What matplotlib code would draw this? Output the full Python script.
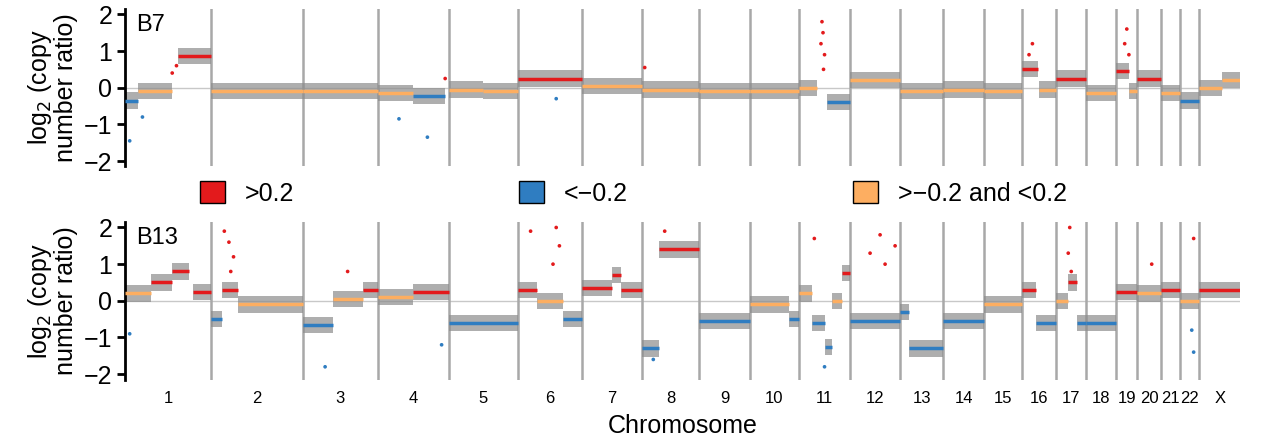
import matplotlib.pyplot as plt
from matplotlib.patches import Patch

plt.rcParams['font.family'] = ['Liberation Sans', 'DejaVu Sans']

chrom_names = ['1', '2', '3', '4', '5', '6', '7', '8', '9', '10', '11', '12', '13', '14',
               '15', '16', '17', '18', '19', '20', '21', '22', 'X']
chrom_widths = [85, 92, 75, 71, 69, 64, 60, 57, 51, 49, 51, 50, 43, 41,
                38, 34, 30, 30, 21, 24, 19, 19, 41]

# segments: (chromosome index, start fraction, end fraction, log2 ratio)
b7_segments = [
    (0, 0.0, 0.15, -0.35), (0, 0.15, 0.55, -0.1), (0, 0.62, 1.0, 0.87),
    (1, 0.0, 1.0, -0.08), (2, 0.0, 1.0, -0.1), (3, 0.0, 0.5, -0.15), (3, 0.5, 0.95, -0.22),
    (4, 0.0, 0.5, -0.05), (4, 0.5, 1.0, -0.1), (5, 0.0, 1.0, 0.25), (6, 0.0, 1.0, 0.05),
    (7, 0.0, 1.0, -0.05), (8, 0.0, 1.0, -0.1), (9, 0.0, 1.0, -0.08), (10, 0.0, 0.35, 0.0),
    (10, 0.55, 1.0, -0.4), (11, 0.0, 1.0, 0.2), (12, 0.0, 1.0, -0.1), (13, 0.0, 1.0, -0.05),
    (14, 0.0, 1.0, -0.1), (15, 0.0, 0.45, 0.5), (15, 0.5, 1.0, -0.05), (16, 0.0, 1.0, 0.25),
    (17, 0.0, 1.0, -0.15), (18, 0.0, 0.6, 0.45), (18, 0.6, 1.0, -0.1), (19, 0.0, 1.0, 0.25),
    (20, 0.0, 1.0, -0.15), (21, 0.0, 1.0, -0.35), (22, 0.0, 0.55, -0.02), (22, 0.55, 1.0, 0.2),
]
b13_segments = [
    (0, 0.0, 0.3, 0.2), (0, 0.3, 0.55, 0.5), (0, 0.55, 0.75, 0.8), (0, 0.8, 1.0, 0.25),
    (1, 0.0, 0.12, -0.5), (1, 0.12, 0.3, 0.3), (1, 0.3, 1.0, -0.1),
    (2, 0.0, 0.4, -0.65), (2, 0.4, 0.8, 0.05), (2, 0.8, 1.0, 0.3),
    (3, 0.0, 0.5, 0.1), (3, 0.5, 1.0, 0.25), (4, 0.0, 1.0, -0.6),
    (5, 0.0, 0.3, 0.3), (5, 0.3, 0.7, 0.0), (5, 0.7, 1.0, -0.5),
    (6, 0.0, 0.5, 0.35), (6, 0.5, 0.65, 0.7), (6, 0.65, 1.0, 0.3),
    (7, 0.0, 0.3, -1.3), (7, 0.3, 1.0, 1.4), (8, 0.0, 1.0, -0.55),
    (9, 0.0, 0.8, -0.1), (9, 0.8, 1.0, -0.5),
    (10, 0.0, 0.25, 0.2), (10, 0.25, 0.5, -0.6), (10, 0.5, 0.65, -1.25),
    (10, 0.65, 0.85, 0.0), (10, 0.85, 1.0, 0.75),
    (11, 0.0, 1.0, -0.55), (12, 0.0, 0.2, -0.3), (12, 0.2, 1.0, -1.3), (13, 0.0, 1.0, -0.55),
    (14, 0.0, 1.0, -0.1), (15, 0.0, 0.4, 0.3), (15, 0.4, 1.0, -0.6),
    (16, 0.0, 0.4, 0.0), (16, 0.4, 0.7, 0.5), (16, 0.7, 1.0, -0.6),
    (17, 0.0, 1.0, -0.6), (18, 0.0, 1.0, 0.25), (19, 0.0, 1.0, 0.2), (20, 0.0, 1.0, 0.3),
    (21, 0.0, 1.0, 0.0), (22, 0.0, 1.0, 0.3),
]
# scattered outlier probes: (chromosome index, fraction, log2 ratio)
b7_outliers = [(0, 0.05, -1.45), (0, 0.2, -0.8), (0, 0.55, 0.4), (0, 0.6, 0.6), (3, 0.3, -0.85),
               (3, 0.7, -1.35), (3, 0.95, 0.25), (10, 0.45, 1.8), (10, 0.47, 1.5), (10, 0.43, 1.2),
               (10, 0.5, 0.9), (10, 0.48, 0.5), (15, 0.3, 1.2), (15, 0.2, 0.9), (18, 0.5, 1.6),
               (18, 0.4, 1.2), (18, 0.6, 0.9), (7, 0.05, 0.55), (5, 0.6, -0.3)]
b13_outliers = [(0, 0.05, -0.9), (1, 0.15, 1.9), (1, 0.2, 1.6), (1, 0.25, 1.2), (1, 0.22, 0.8),
                (2, 0.3, -1.8), (2, 0.6, 0.8), (3, 0.9, -1.2), (5, 0.2, 1.9), (5, 0.6, 2.0),
                (5, 0.65, 1.5), (5, 0.55, 1.0), (7, 0.2, -1.6), (7, 0.4, 1.9), (10, 0.3, 1.7),
                (10, 0.5, -1.8), (11, 0.4, 1.3), (11, 0.6, 1.8), (11, 0.7, 1.0), (11, 0.9, 1.5),
                (16, 0.45, 2.0), (16, 0.4, 1.3), (16, 0.5, 0.8), (19, 0.6, 1.0), (21, 0.7, 1.7),
                (21, 0.6, -0.8), (21, 0.7, -1.4)]

red, blue, orange = '#e31a1c', '#2f7dc1', '#fdae61'


def color_for(v):
    if v > 0.2:
        return red
    if v < -0.2:
        return blue
    return orange


starts = [sum(chrom_widths[:i]) for i in range(len(chrom_widths))]
total = sum(chrom_widths)

fig = plt.figure(figsize=(12.67, 4.44), dpi=100)
ax1 = fig.add_axes([0.099, 0.625, 0.88, 0.355])
ax2 = fig.add_axes([0.099, 0.145, 0.88, 0.355])

for ax, segs, outs, name in [(ax1, b7_segments, b7_outliers, 'B7'), (ax2, b13_segments, b13_outliers, 'B13')]:
    ax.axhline(0, color='#c8c8c8', lw=1, zorder=1)
    for s in starts[1:]:
        ax.axvline(s, color='#a8a8a8', lw=1.8, zorder=1)
    for c, a, b, v in segs:
        x0 = starts[c] + a * chrom_widths[c]
        x1 = starts[c] + b * chrom_widths[c]
        ax.fill_between([x0, x1], v - 0.22, v + 0.22, color='#8c8c8c', alpha=0.7, lw=0, zorder=2)
        ax.plot([x0, x1], [v, v], color=color_for(v), lw=2.5, zorder=3, solid_capstyle='butt')
    ox = [starts[c] + f * chrom_widths[c] for c, f, v in outs]
    oy = [v for c, f, v in outs]
    ax.scatter(ox, oy, s=7, c=[color_for(v) for v in oy], zorder=4, lw=0)
    ax.set_xlim(0, total)
    ax.set_ylim(-2.15, 2.15)
    ax.set_yticks([-2, -1, 0, 1, 2])
    ax.set_yticklabels(['\u22122', '\u22121', '0', '1', '2'])
    ax.tick_params(axis='y', labelsize=18, width=2, length=6)
    ax.set_xticks([])
    for sp in ['top', 'right', 'bottom']:
        ax.spines[sp].set_visible(False)
    ax.spines['left'].set_linewidth(2)
    ax.set_ylabel('log$_2$ (copy\nnumber ratio)', fontsize=18, linespacing=1.0)
    ax.text(0.01, 0.97, name, transform=ax.transAxes, fontsize=17, va='top')

ax2.set_xticks([s + w / 2 for s, w in zip(starts, chrom_widths)])
ax2.set_xticklabels(chrom_names, fontsize=12)
ax2.tick_params(axis='x', length=0, pad=8)
ax2.set_xlabel('Chromosome', fontsize=18, labelpad=6)

handles = [Patch(facecolor=red, edgecolor='black', label='>0.2'),
           Patch(facecolor=blue, edgecolor='black', label='<\u22120.2'),
           Patch(facecolor=orange, edgecolor='black', label='>\u22120.2 and <0.2')]
fig.legend(handles=handles, loc='center', bbox_to_anchor=(0.5, 0.565), ncol=3, frameon=False,
           fontsize=18, handlelength=1.0, handleheight=1.0, columnspacing=9)

plt.savefig('out.png', dpi=100)
